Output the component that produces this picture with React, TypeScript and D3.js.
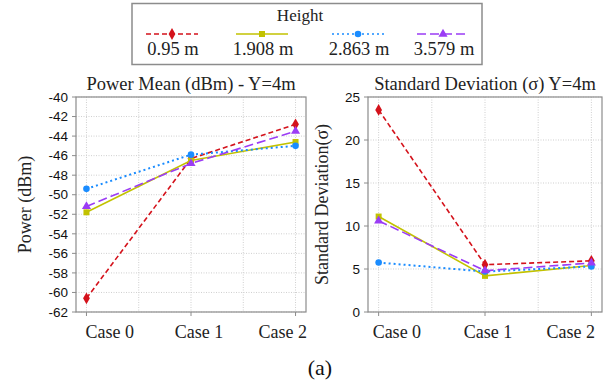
import React, { useRef, useEffect } from 'react';
import * as d3 from 'd3';

const cases = ['Case 0', 'Case 1', 'Case 2'];
const heights = ['0.95 m', '1.908 m', '2.863 m', '3.579 m'];
const colors = ['#d4121b', '#c2c200', '#1a8cff', '#9b3cf5'];
const dashes = ['5 3', null, '2 3', '9 4'];
const markers = ['diamond', 'square', 'circle', 'triangle'];

const powerMean = [
  [-60.6, -46.3, -42.8],
  [-51.8, -46.5, -44.6],
  [-49.4, -45.9, -45.0],
  [-51.2, -46.8, -43.5],
];
const stdDev = [
  [23.5, 5.5, 5.95],
  [11.1, 4.2, 5.4],
  [5.75, 4.7, 5.3],
  [10.6, 4.8, 5.7],
];
const powerTicks = d3.range(-62, -39, 2);
const stdTicks = [0, 5, 10, 15, 20, 25];

const serif = "'Liberation Serif', 'DejaVu Serif', serif";
const sans = "'Liberation Sans', 'DejaVu Sans', sans-serif";
const legendX = [172, 262, 358, 443];

function drawMarker(g: any, kind: string, x: number, y: number, color: string) {
  const sym = {
    diamond: d3.symbolDiamond,
    square: d3.symbolSquare,
    circle: d3.symbolCircle,
    triangle: d3.symbolTriangle,
  }[kind];
  const size = kind === 'circle' ? 34 : kind === 'diamond' ? 40 : 36;
  g.append('path')
    .attr('d', d3.symbol().type(sym).size(size)())
    .attr('transform', `translate(${x},${y})`)
    .attr('fill', color);
}

function panel(svg: any, opts: any) {
  const { left, right, top, bottom, domain, ticks, data, title, ylabel, ylabelX, labelShift } = opts;
  const x = d3.scaleLinear().domain([-0.1, 2.1]).range([left, right]);
  const y = d3.scaleLinear().domain(domain).range([bottom, top]);
  const g = svg.append('g');

  // grid
  ticks.forEach((t: number) => {
    g.append('line')
      .attr('x1', left).attr('x2', right)
      .attr('y1', y(t)).attr('y2', y(t))
      .attr('stroke', '#cfcfcf').attr('stroke-dasharray', '1 1.5');
  });
  d3.range(0, 2.01, 0.5).forEach((c: number) => {
    g.append('line')
      .attr('x1', x(c)).attr('x2', x(c))
      .attr('y1', top).attr('y2', bottom)
      .attr('stroke', '#cfcfcf').attr('stroke-dasharray', '1 1.5');
  });

  // frame
  g.append('rect')
    .attr('x', left).attr('y', top)
    .attr('width', right - left).attr('height', bottom - top)
    .attr('fill', 'none').attr('stroke', '#8c8c8c').attr('stroke-width', 1.2);

  // y ticks
  ticks.forEach((t: number) => {
    g.append('line')
      .attr('x1', left - 4).attr('x2', left)
      .attr('y1', y(t)).attr('y2', y(t))
      .attr('stroke', '#8c8c8c');
    g.append('text')
      .attr('x', left - 8).attr('y', y(t))
      .attr('dy', '0.35em').attr('text-anchor', 'end')
      .attr('font-family', sans).attr('font-size', 13.5).attr('fill', '#111')
      .text(t);
  });
  // x ticks
  const anchors = ['start', 'middle', 'end'];
  cases.forEach((c, i) => {
    g.append('line')
      .attr('x1', x(i)).attr('x2', x(i))
      .attr('y1', bottom).attr('y2', bottom + 4)
      .attr('stroke', '#8c8c8c');
    const lx = i === 2 ? right : x(i);
    g.append('text')
      .attr('x', lx + labelShift[i]).attr('y', bottom + 26)
      .attr('text-anchor', anchors[i])
      .attr('font-family', serif).attr('font-size', 18).attr('fill', '#222')
      .text(c);
  });

  // title
  g.append('text')
    .attr('x', (left + right) / 2).attr('y', top - 7)
    .attr('text-anchor', 'middle')
    .attr('font-family', serif).attr('font-size', 18.5).attr('fill', '#222')
    .text(title);
  // y label
  g.append('text')
    .attr('transform', `translate(${ylabelX},${(top + bottom) / 2}) rotate(-90)`)
    .attr('text-anchor', 'middle').attr('dy', '0.35em')
    .attr('font-family', serif).attr('font-size', 18).attr('fill', '#222')
    .text(ylabel);

  const line = d3.line<number>().x((d, i) => x(i)).y(d => y(d));
  data.forEach((s: number[], k: number) => {
    g.append('path')
      .attr('d', line(s))
      .attr('fill', 'none')
      .attr('stroke', colors[k])
      .attr('stroke-width', k === 2 ? 2 : 1.6)
      .attr('stroke-dasharray', dashes[k]);
  });
  data.forEach((s: number[], k: number) => {
    s.forEach((v, i) => drawMarker(g, markers[k], x(i), y(v), colors[k]));
  });
}

export default function App() {
  const ref = useRef<SVGSVGElement>(null);

  useEffect(() => {
    const svg = d3.select(ref.current);
    svg.selectAll('*').remove();

    // legend
    const lg = svg.append('g');
    lg.append('rect')
      .attr('x', 132).attr('y', 3.5).attr('width', 350).attr('height', 61)
      .attr('fill', '#fff').attr('stroke', '#8c8c8c').attr('stroke-width', 1.5);
    lg.append('text')
      .attr('x', 300).attr('y', 21)
      .attr('text-anchor', 'middle')
      .attr('font-family', serif).attr('font-size', 17).attr('fill', '#222')
      .text('Height');
    heights.forEach((h, k) => {
      const cx = legendX[k];
      lg.append('line')
        .attr('x1', cx - 26).attr('x2', cx + 26)
        .attr('y1', 34).attr('y2', 34)
        .attr('stroke', colors[k]).attr('stroke-width', 1.6)
        .attr('stroke-dasharray', dashes[k]);
      drawMarker(lg, markers[k], cx, 34, colors[k]);
      lg.append('text')
        .attr('x', cx + 1).attr('y', 55)
        .attr('text-anchor', 'middle')
        .attr('font-family', serif).attr('font-size', 18.5).attr('fill', '#222')
        .text(h);
    });

    panel(svg, {
      left: 76, right: 306, top: 97, bottom: 312,
      domain: [-62, -40], ticks: powerTicks, data: powerMean,
      title: 'Power Mean (dBm) - Y=4m', ylabel: 'Power (dBm)', ylabelX: 25,
      labelShift: [-1, 8, 1],
    });
    panel(svg, {
      left: 368, right: 602, top: 97, bottom: 312,
      domain: [0, 25], ticks: stdTicks, data: stdDev,
      title: 'Standard Deviation (\u03c3) Y=4m', ylabel: 'Standard Deviation(\u03c3)', ylabelX: 322,
      labelShift: [-6, 3, -7],
    });

    svg.append('text')
      .attr('x', 320).attr('y', 375)
      .attr('text-anchor', 'middle')
      .attr('font-family', serif).attr('font-size', 22).attr('fill', '#111')
      .text('(a)');
  }, []);

  return (
    <svg
      ref={ref}
      width={611}
      height={389}
      style={{ position: 'absolute', left: 0, top: 0, background: '#fff' }}
    />
  );
}
